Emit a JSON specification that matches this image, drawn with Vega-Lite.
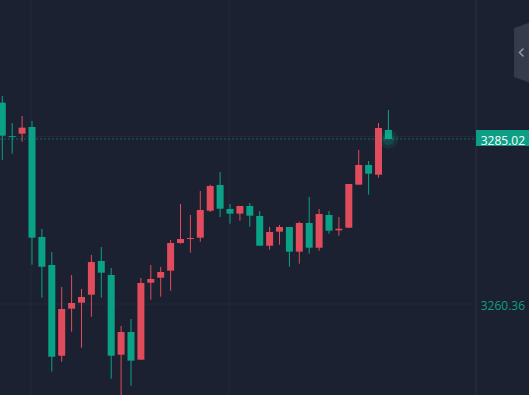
{
  "$schema": "https://vega.github.io/schema/vega-lite/v6.json",
  "width": 529,
  "height": 395,
  "autosize": "none",
  "padding": 0,
  "background": "#1b2130",
  "config": {"view": {"stroke": null}},
  "datasets": {
    "candles": [
      {"i": 0, "open": 3290.45, "close": 3285.51, "high": 3291.45, "low": 3281.88},
      {"i": 1, "open": 3285.45, "close": 3285.30, "high": 3287.41, "low": 3282.82},
      {"i": 2, "open": 3285.81, "close": 3286.71, "high": 3288.46, "low": 3284.62},
      {"i": 3, "open": 3286.81, "close": 3270.27, "high": 3287.71, "low": 3266.23},
      {"i": 4, "open": 3270.37, "close": 3265.93, "high": 3271.57, "low": 3261.30},
      {"i": 5, "open": 3266.19, "close": 3252.48, "high": 3268.13, "low": 3250.24},
      {"i": 6, "open": 3252.63, "close": 3259.61, "high": 3262.90, "low": 3251.74},
      {"i": 7, "open": 3259.66, "close": 3260.51, "high": 3264.69, "low": 3256.22},
      {"i": 8, "open": 3260.55, "close": 3261.41, "high": 3262.60, "low": 3253.83},
      {"i": 9, "open": 3261.75, "close": 3266.64, "high": 3267.68, "low": 3258.46},
      {"i": 10, "open": 3266.79, "close": 3265.04, "high": 3268.88, "low": 3261.30},
      {"i": 11, "open": 3264.69, "close": 3252.63, "high": 3265.74, "low": 3249.20},
      {"i": 12, "open": 3252.78, "close": 3256.18, "high": 3257.07, "low": 3246.31},
      {"i": 13, "open": 3256.18, "close": 3251.89, "high": 3258.12, "low": 3248.15},
      {"i": 14, "open": 3252.04, "close": 3263.50, "high": 3264.25, "low": 3252.04},
      {"i": 15, "open": 3263.54, "close": 3264.10, "high": 3266.19, "low": 3261.00},
      {"i": 16, "open": 3264.29, "close": 3265.14, "high": 3265.89, "low": 3261.45},
      {"i": 17, "open": 3265.34, "close": 3269.48, "high": 3269.93, "low": 3262.35},
      {"i": 18, "open": 3269.48, "close": 3270.07, "high": 3275.31, "low": 3269.37},
      {"i": 19, "open": 3270.07, "close": 3270.22, "high": 3273.66, "low": 3268.03},
      {"i": 20, "open": 3270.27, "close": 3274.41, "high": 3277.25, "low": 3269.67},
      {"i": 21, "open": 3274.30, "close": 3278.00, "high": 3278.19, "low": 3274.11},
      {"i": 22, "open": 3278.15, "close": 3274.60, "high": 3280.09, "low": 3273.36},
      {"i": 23, "open": 3274.56, "close": 3273.86, "high": 3275.31, "low": 3272.36},
      {"i": 24, "open": 3273.86, "close": 3275.01, "high": 3275.01, "low": 3272.81},
      {"i": 25, "open": 3275.01, "close": 3273.56, "high": 3275.45, "low": 3271.91},
      {"i": 26, "open": 3273.51, "close": 3269.07, "high": 3274.26, "low": 3269.07},
      {"i": 27, "open": 3269.07, "close": 3271.12, "high": 3271.87, "low": 3268.48},
      {"i": 28, "open": 3271.17, "close": 3271.87, "high": 3272.17, "low": 3269.22},
      {"i": 29, "open": 3271.87, "close": 3268.18, "high": 3271.87, "low": 3265.93},
      {"i": 30, "open": 3268.18, "close": 3272.47, "high": 3272.66, "low": 3266.38},
      {"i": 31, "open": 3272.47, "close": 3268.77, "high": 3276.35, "low": 3267.88},
      {"i": 32, "open": 3268.77, "close": 3273.81, "high": 3274.56, "low": 3268.33},
      {"i": 33, "open": 3273.66, "close": 3271.32, "high": 3274.26, "low": 3270.87},
      {"i": 34, "open": 3271.37, "close": 3271.61, "high": 3273.36, "low": 3270.57},
      {"i": 35, "open": 3271.76, "close": 3278.29, "high": 3278.29, "low": 3271.76},
      {"i": 36, "open": 3278.19, "close": 3281.13, "high": 3283.38, "low": 3278.19},
      {"i": 37, "open": 3281.13, "close": 3279.83, "high": 3281.73, "low": 3276.70},
      {"i": 38, "open": 3279.68, "close": 3286.66, "high": 3287.41, "low": 3279.24},
      {"i": 39, "open": 3286.37, "close": 3285.02, "high": 3289.35, "low": 3285.02}
    ],
    "vgrid": [{"g": 2.9}, {"g": 22.9}],
    "hgrid": [{"p": 3260.36}, {"p": 3285.4}],
    "labels": [{"p": 3260.36, "kind": "grid"}, {"p": 3285.02, "kind": "last"}],
    "one": [{}]
  },
  "layer": [
    {
      "data": {"name": "vgrid"},
      "mark": {"type": "rule", "color": "#232a3a", "strokeWidth": 1},
      "encoding": {
        "x": {"field": "g", "type": "quantitative", "scale": {"domain": [-0.232, 53.2], "nice": false, "zero": false, "padding": 0}, "axis": null}
      }
    },
    {
      "data": {"name": "hgrid"},
      "mark": {"type": "rule", "color": "#232a3a", "strokeWidth": 1},
      "encoding": {
        "y": {"field": "p", "type": "quantitative", "scale": {"domain": [3246.76, 3305.79], "nice": false, "zero": false, "padding": 0}, "axis": null},
        "x": {"datum": -0.232, "type": "quantitative", "axis": null},
        "x2": {"datum": 47.85}
      }
    },
    {
      "data": {"name": "one"},
      "mark": {"type": "rule", "color": "#2a3142", "strokeWidth": 1},
      "encoding": {
        "x": {"datum": 47.85, "type": "quantitative", "axis": null}
      }
    },
    {
      "data": {"name": "candles"},
      "transform": [{"filter": "datum.i == 39"}],
      "mark": {"type": "rule", "color": "#0d9f85", "opacity": 0.55, "strokeDash": [2, 2], "strokeWidth": 1},
      "encoding": {
        "y": {"field": "close", "type": "quantitative", "axis": null},
        "x": {"datum": -0.232, "type": "quantitative", "axis": null},
        "x2": {"datum": 47.85}
      }
    },
    {
      "data": {"name": "candles"},
      "mark": {"type": "rule", "strokeWidth": 1, "clip": true},
      "encoding": {
        "x": {"field": "i", "type": "quantitative", "axis": null},
        "y": {"field": "low", "type": "quantitative", "axis": null},
        "y2": {"field": "high"},
        "color": {"condition": {"test": "datum.close >= datum.open", "value": "#e04c5b"}, "value": "#0aa287"}
      }
    },
    {
      "data": {"name": "candles"},
      "mark": {"type": "bar", "size": 7, "clip": true},
      "encoding": {
        "x": {"field": "i", "type": "quantitative", "axis": null},
        "y": {"field": "open", "type": "quantitative", "axis": null},
        "y2": {"field": "close"},
        "color": {"condition": {"test": "datum.close >= datum.open", "value": "#e04c5b"}, "value": "#0aa287"}
      }
    },
    {
      "data": {"name": "candles"},
      "transform": [{"filter": "datum.i == 39"}],
      "mark": {"type": "point", "shape": "circle", "filled": true, "size": 380, "opacity": 0.1, "color": "#14c9a6"},
      "encoding": {
        "x": {"field": "i", "type": "quantitative", "axis": null},
        "y": {"field": "close", "type": "quantitative", "axis": null}
      }
    },
    {
      "data": {"name": "candles"},
      "transform": [{"filter": "datum.i == 39"}],
      "mark": {"type": "point", "shape": "circle", "filled": true, "size": 150, "opacity": 0.15, "color": "#14c9a6"},
      "encoding": {
        "x": {"field": "i", "type": "quantitative", "axis": null},
        "y": {"field": "close", "type": "quantitative", "axis": null}
      }
    },
    {
      "data": {"name": "candles"},
      "transform": [{"filter": "datum.i == 39"}],
      "mark": {"type": "bar", "orient": "horizontal", "size": 16, "color": "#0d9f85", "yOffset": -1},
      "encoding": {
        "y": {"field": "close", "type": "quantitative", "axis": null},
        "x": {"datum": 47.85, "type": "quantitative", "axis": null},
        "x2": {"datum": 53.5}
      }
    },
    {
      "data": {"name": "labels"},
      "mark": {"type": "text", "align": "left", "baseline": "middle", "font": "Open Sans", "fontSize": 12, "dx": 0},
      "encoding": {
        "x": {"datum": 48.32, "type": "quantitative", "axis": null},
        "y": {"field": "p", "type": "quantitative", "axis": null},
        "text": {"field": "p", "type": "quantitative", "format": ".2f"},
        "yOffset": {"condition": {"test": "datum.kind == 'last'", "value": -1}, "value": 2.5},
        "color": {"condition": {"test": "datum.kind == 'last'", "value": "#ffffff"}, "value": "#0d9f85"}
      }
    },
    {
      "data": {"name": "one"},
      "mark": {"type": "point", "shape": "M -0.49 -0.8 L 0 -0.98 L 0.49 -0.8 L 0.49 0.8 L 0 0.98 L -0.49 0.8 Z", "filled": true, "size": 3721, "color": "#363b4b", "opacity": 1},
      "encoding": {
        "x": {"datum": 53.2, "type": "quantitative", "axis": null},
        "y": {"datum": 3297.94, "type": "quantitative", "axis": null}
      }
    },
    {
      "data": {"name": "one"},
      "mark": {"type": "point", "shape": "M 0.4 -0.8 L -0.4 0 L 0.4 0.8", "filled": false, "size": 100, "color": "#9598a1", "strokeWidth": 1.5, "opacity": 1},
      "encoding": {
        "x": {"datum": 52.44, "type": "quantitative", "axis": null},
        "y": {"datum": 3297.94, "type": "quantitative", "axis": null}
      }
    }
  ]
}
